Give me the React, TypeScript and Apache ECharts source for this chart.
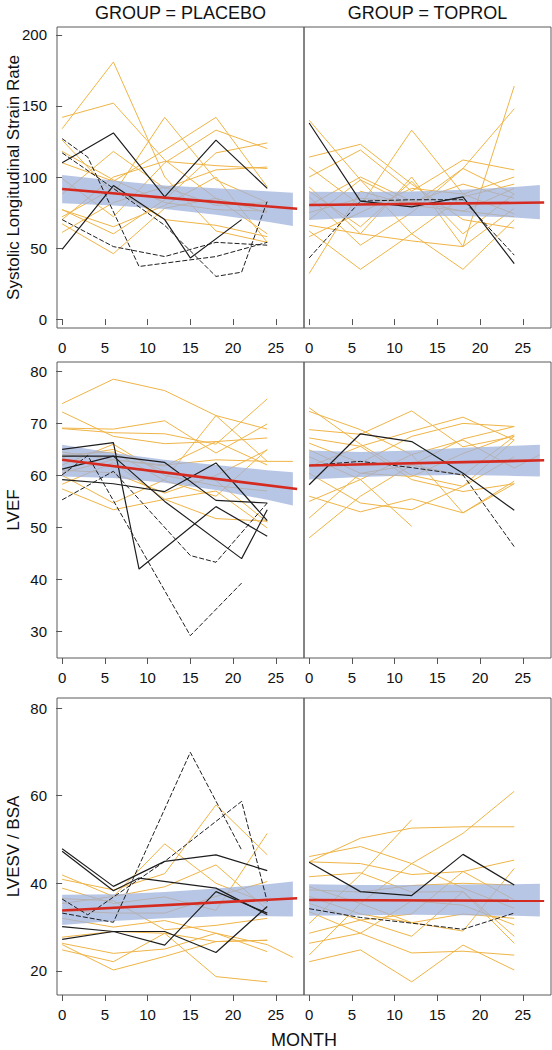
import React, { useEffect, useRef } from 'react';
import * as echarts from 'echarts';

type Pt = [number, number];

const VISITS = [0, 6, 12, 18, 24];
const X_TICKS = [0, 5, 10, 15, 20, 25];
const BAND_X = [0, 6, 12, 18, 24, 27];

const GROUPS = ['GROUP = PLACEBO', 'GROUP = TOPROL'];
const MEASURES = ['Systolic Longitudinal Strain Rate', 'LVEF', 'LVESV / BSA'];
const X_TITLE = 'MONTH';

const Y_TICKS_SL = [0, 50, 100, 150, 200];
const Y_TICKS_LVEF = [30, 40, 50, 60, 70, 80];
const Y_TICKS_LVESV = [20, 40, 60, 80];

// ---------- Systolic Longitudinal Strain Rate ----------
const SL_P_ORANGE: (number[] | Pt[])[] = [
  [134, 181, 100, 62, 54],
  [142, 152, 112, 85, 60],
  [126, 88, 142, 98, 82],
  [110, 97, 119, 142, 93],
  [99, 72, 110, 133, 120],
  [77, 60, 84, 117, 124],
  [70, 100, 111, 108, 106],
  [67, 46, 78, 85, 75],
  [61, 82, 93, 80, 82],
  [77, 65, 80, 100, 54],
  [88, 118, 92, 105, 107],
  [72, 92, 70, 66, 58],
  [118, 98, 82, 77, 76],
];
const SL_P_BLACK: Pt[][] = [
  [[0, 110], [6, 131], [12, 86], [18, 126], [24, 92]],
  [[0, 49], [6, 94], [12, 70], [15, 43], [21, 70]],
  [[0, 127], [3, 114], [9, 37], [18, 44], [24, 54]],
  [[0, 117], [6, 92], [12, 66], [18, 30], [21, 33], [24, 83]],
  [[0, 70], [6, 51], [12, 44], [18, 54], [24, 52]],
];
const SL_P_BLACK_DASHED = [false, false, true, true, true];
const SL_P_FIT: Pt[] = [[0, 91.5], [27.5, 77.6]];
const SL_P_LOWER = [81.5, 80, 77.5, 73.5, 68.5, 65.5];
const SL_P_UPPER = [101.4, 97.5, 94, 92, 90, 89];

const SL_T_ORANGE: (number[] | Pt[])[] = [
  [140, 98, 80, 106, 88],
  [114, 123, 95, 70, 64],
  [107, 80, 133, 88, 74],
  [100, 119, 90, 112, 105],
  [93, 60, 100, 51, 164],
  [86, 52, 75, 106, 148],
  [70, 98, 60, 86, 95],
  [66, 60, 55, 51, 78],
  [62, 35, 60, 35, 70],
  [58, 75, 92, 88, 100],
  [32, 90, 80, 76, 72],
  [75, 85, 82, 95, 85],
  [90, 65, 97, 60, 88],
  [80, 100, 83, 76, 92],
];
const SL_T_BLACK: Pt[][] = [
  [[0, 138], [6, 83], [12, 79], [18, 86], [24, 39]],
  [[0, 43], [6, 83], [12, 84], [18, 84], [24, 45]],
];
const SL_T_BLACK_DASHED = [false, true];
const SL_T_FIT: Pt[] = [[0, 80.3], [27.5, 82]];
const SL_T_LOWER = [69.7, 71.5, 72.5, 72.5, 71.5, 70.2];
const SL_T_UPPER = [89.7, 89.5, 89.8, 91, 93, 94.4];

// ---------- LVEF ----------
const LVEF_P_ORANGE: (number[] | Pt[])[] = [
  [73.8, 78.5, 76.3, 71.5, 68.9],
  [72.2, 67.5, 66.1, 66.5, 67.2],
  [69.1, 68.9, 70.5, 64.3, 69.9],
  [69.0, 68.2, 68.0, 66.0, 74.7],
  [60.0, 54.7, 59.2, 71.5, 62.7],
  [[0, 64.5], [6, 63.0], [12, 62.0], [18, 63.0], [24, 62.7], [27, 62.7]],
  [62.0, 66.0, 60.0, 58.0, 57.0],
  [58.3, 62.5, 55.4, 57.0, 49.9],
  [57.4, 53.4, 55.4, 51.7, 51.2],
  [64.0, 64.5, 59.0, 56.0, 65.0],
  [61.0, 60.5, 56.6, 60.0, 64.9],
  [63.5, 65.0, 60.8, 59.0, 51.0],
  [60.5, 63.0, 61.8, 66.5, 62.0],
];
const LVEF_P_BLACK: Pt[][] = [
  [[0, 65], [6, 66.3], [9, 42], [18, 54], [24, 48.3]],
  [[0, 63.7], [6, 63.7], [12, 62.5], [18, 55.2], [24, 54.7]],
  [[0, 59.2], [6, 58.4], [12, 56.9], [18, 62.4], [24, 51.3]],
  [[0, 55.3], [6, 60.8], [15, 44.6], [18, 43.3], [24, 54.7]],
  [[0, 60.1], [3, 63.8], [15, 29.2], [21, 39.3]],
  [[0, 61.2], [6, 63.7], [12, 55], [21, 44], [24, 53.4]],
];
const LVEF_P_BLACK_DASHED = [false, false, false, true, true, false];
const LVEF_P_FIT: Pt[] = [[0, 63], [27.5, 57.4]];
const LVEF_P_LOWER = [59.8, 59.5, 58.6, 57.2, 55.3, 54.2];
const LVEF_P_UPPER = [65.9, 64.3, 63, 62, 61, 60.6];

const LVEF_T_ORANGE: (number[] | Pt[])[] = [
  [73.0, 66.0, 60.0, 57.9, 63.6],
  [72.3, 68.8, 64.0, 52.8, 58.9],
  [68.8, 67.9, 72.4, 65.5, 67.5],
  [67.2, 65.6, 68.5, 71.2, 66.8],
  [66.2, 62.4, 67.5, 70.0, 69.4],
  [64.9, 60.4, 59.8, 64.2, 67.8],
  [[0, 63.6], [6, 59.2], [12, 64.0], [18, 66.8], [24, 61.4], [27, 64.0]],
  [61.7, 65.6, 59.2, 56.9, 58.4],
  [60.4, 54.7, 53.4, 57.9, 66.8],
  [56.0, 53.0, 55.5, 52.8, 58.4],
  [55.0, 59.2, 50.2],
  [51.8, 60.4, 62.0, 60.0, 67.5],
  [48.0, 56.0, 62.0, 67.0, 69.4],
];
const LVEF_T_BLACK: Pt[][] = [
  [[0, 58.2], [6, 68], [12, 66.5], [18, 60.4], [24, 53.3]],
  [[0, 61.9], [6, 62.7], [12, 61.5], [18, 60.1], [24, 46.3]],
];
const LVEF_T_BLACK_DASHED = [false, true];
const LVEF_T_FIT: Pt[] = [[0, 61.9], [27.5, 62.9]];
const LVEF_T_LOWER = [59.2, 59.7, 60, 60.1, 59.9, 59.8];
const LVEF_T_UPPER = [64.8, 64.5, 64.8, 65.3, 65.7, 65.9];

// ---------- LVESV / BSA ----------
const LVESV_P_ORANGE: (number[] | Pt[])[] = [
  [41.9, 37.0, 49.0, 40.0, 35.4],
  [40.9, 38.5, 42.2, 57.9, 46.5],
  [38.9, 35.4, 36.9, 33.8, 51.4],
  [35.4, 37.0, 39.2, 44.2, 34.0],
  [33.8, 33.2, 33.2, 37.0, 40.4],
  [36.5, 36.0, 29.4, 30.4, 32.0],
  [27.7, 29.0, 28.6, 26.7, 27.0],
  [[0, 26.3], [6, 24.0], [12, 25.0], [18, 28.6], [24, 26.0], [27, 23.1]],
  [24.8, 22.1, 28.6, 18.7, 17.5],
  [26.0, 20.2, 23.3, 26.7, 27.0],
  [32.0, 30.0, 31.5, 28.6, 24.4],
];
const LVESV_P_BLACK: Pt[][] = [
  [[0, 47.9], [6, 39.3], [12, 45], [18, 46.5], [24, 42.9]],
  [[0, 47.3], [6, 38.3], [9, 41.2], [18, 38.9], [24, 32.8]],
  [[0, 33.2], [6, 31.1], [15, 69.9], [21, 47.6]],
  [[0, 36.4], [3, 32.8], [12, 45], [21, 58.7], [24, 35.8]],
  [[0, 30.1], [6, 29], [12, 29], [18, 24.2], [24, 34.7]],
  [[0, 27.2], [6, 29], [12, 25.9], [18, 38.1], [24, 33.2]],
];
const LVESV_P_BLACK_DASHED = [false, false, true, true, false, false];
const LVESV_P_FIT: Pt[] = [[0, 33.8], [27.5, 36.6]];
const LVESV_P_LOWER = [30.5, 31.4, 32, 32.4, 32.5, 32.4];
const LVESV_P_UPPER = [37.4, 37.5, 38, 38.8, 39.8, 40.4];

const LVESV_T_ORANGE: (number[] | Pt[])[] = [
  [44.9, 50.3, 52.6, 52.9, 52.9],
  [46.1, 48.4, 44.5, 38.9, 34.3],
  [44.9, 44.5, 42.0, 42.7, 36.2],
  [41.5, 42.4, 38.0, 38.1, 27.9],
  [39.2, 35.4, 44.5, 51.4, 61.0],
  [38.5, 38.0, 39.5, 40.0, 39.6],
  [35.4, 31.6, 27.9, 38.1, 26.3],
  [30.8, 42.0, 54.5],
  [28.6, 31.6, 33.0, 42.7, 45.3],
  [26.3, 28.6, 24.1, 24.5, 23.6],
  [23.6, 35.4, 31.0, 29.1, 43.4],
  [22.1, 24.8, 17.5, 25.9, 20.2],
  [37.0, 33.0, 31.0, 33.0, 32.0],
  [33.5, 28.6, 36.0, 35.0, 30.5],
];
const LVESV_T_BLACK: Pt[][] = [
  [[0, 44.8], [6, 38.1], [12, 37.2], [18, 46.6], [24, 39.6]],
  [[0, 34.2], [6, 32.2], [12, 30.9], [18, 29.5], [24, 33.2]],
];
const LVESV_T_BLACK_DASHED = [false, true];
const LVESV_T_FIT: Pt[] = [[0, 36.2], [27.5, 36.0]];
const LVESV_T_LOWER = [32.6, 32.7, 32.8, 32.7, 32.6, 32.4];
const LVESV_T_UPPER = [39.8, 39.6, 39.6, 39.7, 39.8, 39.9];

// ---------- styling / layout ----------
const FONT = "'Liberation Sans', Arial, Helvetica, sans-serif";
const ORANGE = '#EFB446';
const BLACK = '#1e1e1e';
const RED = '#D52A1F';
const BAND = '#9DB0DD';

const COL_LEFT = [57, 304];
const COL_WIDTH = 247;
const ROW_TOP = [27, 362, 698];
const ROW_HEIGHT = [301, 296, 297];
const Y_RANGES: [number, number][] = [[-6.3, 205.6], [24.9, 81.8], [14.5, 82.3]];
const Y_TICKS = [Y_TICKS_SL, Y_TICKS_LVEF, Y_TICKS_LVESV];
const X_RANGE: [number, number] = [-0.6, 28.3];

type Panel = {
  orange: (number[] | Pt[])[];
  black: Pt[][];
  dashed: boolean[];
  fit: Pt[];
  lower: number[];
  upper: number[];
};

const PANELS: Panel[] = [
  { orange: SL_P_ORANGE, black: SL_P_BLACK, dashed: SL_P_BLACK_DASHED, fit: SL_P_FIT, lower: SL_P_LOWER, upper: SL_P_UPPER },
  { orange: SL_T_ORANGE, black: SL_T_BLACK, dashed: SL_T_BLACK_DASHED, fit: SL_T_FIT, lower: SL_T_LOWER, upper: SL_T_UPPER },
  { orange: LVEF_P_ORANGE, black: LVEF_P_BLACK, dashed: LVEF_P_BLACK_DASHED, fit: LVEF_P_FIT, lower: LVEF_P_LOWER, upper: LVEF_P_UPPER },
  { orange: LVEF_T_ORANGE, black: LVEF_T_BLACK, dashed: LVEF_T_BLACK_DASHED, fit: LVEF_T_FIT, lower: LVEF_T_LOWER, upper: LVEF_T_UPPER },
  { orange: LVESV_P_ORANGE, black: LVESV_P_BLACK, dashed: LVESV_P_BLACK_DASHED, fit: LVESV_P_FIT, lower: LVESV_P_LOWER, upper: LVESV_P_UPPER },
  { orange: LVESV_T_ORANGE, black: LVESV_T_BLACK, dashed: LVESV_T_BLACK_DASHED, fit: LVESV_T_FIT, lower: LVESV_T_LOWER, upper: LVESV_T_UPPER },
];

function toPts(line: number[] | Pt[]): Pt[] {
  if (typeof line[0] === 'number') {
    return (line as number[]).map((v, i) => [VISITS[i], v] as Pt);
  }
  return line as Pt[];
}

function buildOption() {
  const grid: any[] = [];
  const xAxis: any[] = [];
  const yAxis: any[] = [];
  const series: any[] = [];

  PANELS.forEach((p, g) => {
    const row = Math.floor(g / 2);
    const col = g % 2;
    grid.push({
      left: COL_LEFT[col],
      top: ROW_TOP[row],
      width: COL_WIDTH,
      height: ROW_HEIGHT[row],
      show: true,
      borderColor: '#5a5a5a',
      borderWidth: 1,
      backgroundColor: 'transparent',
      containLabel: false,
    });
    xAxis.push({
      type: 'value',
      gridIndex: g,
      min: X_RANGE[0],
      max: X_RANGE[1],
      axisLine: { show: false },
      splitLine: { show: false },
      axisTick: { show: true, length: 6, lineStyle: { color: '#555', width: 1 }, customValues: X_TICKS },
      axisLabel: { show: true, fontSize: 15, color: '#111', margin: 12, fontFamily: FONT, customValues: X_TICKS },
    });
    yAxis.push({
      type: 'value',
      gridIndex: g,
      min: Y_RANGES[row][0],
      max: Y_RANGES[row][1],
      show: col === 0,
      axisLine: { show: false },
      splitLine: { show: false },
      axisTick: { show: true, length: 6, lineStyle: { color: '#555', width: 1 }, customValues: Y_TICKS[row] },
      axisLabel: { show: true, fontSize: 15, color: '#111', margin: 10, fontFamily: FONT, customValues: Y_TICKS[row] },
    });

    p.orange.forEach((line) => {
      series.push({
        type: 'line',
        xAxisIndex: g,
        yAxisIndex: g,
        data: toPts(line),
        symbol: 'none',
        silent: true,
        z: 2,
        lineStyle: { color: ORANGE, width: 1 },
      });
    });

    const lower = p.lower;
    const upper = p.upper;
    series.push({
      type: 'custom',
      xAxisIndex: g,
      yAxisIndex: g,
      silent: true,
      z: 3,
      data: BAND_X.map((x, i) => [x, lower[i], upper[i]]),
      encode: { x: 0, y: [1, 2] },
      renderItem: (params: any, api: any) => {
        if (params.dataIndex !== 0) return null;
        const top = BAND_X.map((x, i) => api.coord([x, upper[i]]));
        const bot = BAND_X.map((x, i) => api.coord([x, lower[i]])).reverse();
        return {
          type: 'polygon',
          shape: { points: top.concat(bot) },
          style: { fill: BAND, opacity: 0.72 },
        };
      },
    });

    p.black.forEach((line, i) => {
      series.push({
        type: 'line',
        xAxisIndex: g,
        yAxisIndex: g,
        data: line,
        symbol: 'none',
        silent: true,
        z: 4,
        lineStyle: { color: BLACK, width: p.dashed[i] ? 1 : 1.2, type: p.dashed[i] ? [5, 2] : 'solid' },
      });
    });

    series.push({
      type: 'line',
      xAxisIndex: g,
      yAxisIndex: g,
      data: p.fit,
      symbol: 'none',
      silent: true,
      z: 5,
      lineStyle: { color: RED, width: 2.6 },
    });
  });

  const graphic: any[] = [];
  GROUPS.forEach((t, col) => {
    graphic.push({
      type: 'text',
      x: COL_LEFT[col] + COL_WIDTH / 2,
      y: 13,
      style: { text: t, fontSize: 18, fontFamily: FONT, fill: '#111', textAlign: 'center', textVerticalAlign: 'middle' },
    });
  });
  MEASURES.forEach((t, row) => {
    graphic.push({
      type: 'text',
      x: 13,
      y: ROW_TOP[row] + ROW_HEIGHT[row] / 2,
      rotation: Math.PI / 2,
      style: { text: t, fontSize: 17, fontFamily: FONT, fill: '#111', textAlign: 'center', textVerticalAlign: 'middle' },
    });
  });
  graphic.push({
    type: 'text',
    x: COL_LEFT[0] + COL_WIDTH,
    y: 1040,
    style: { text: X_TITLE, fontSize: 18, fontFamily: FONT, fill: '#111', textAlign: 'center', textVerticalAlign: 'middle' },
  });

  return {
    animation: false,
    backgroundColor: '#ffffff',
    textStyle: { fontFamily: FONT },
    grid,
    xAxis,
    yAxis,
    series,
    graphic,
  };
}

export default function App() {
  const ref = useRef<HTMLDivElement>(null);
  useEffect(() => {
    document.body.style.margin = '0';
    if (!ref.current) return;
    const chart = echarts.init(ref.current, undefined, { renderer: 'svg' });
    chart.setOption(buildOption() as any);
    return () => chart.dispose();
  }, []);
  return <div ref={ref} style={{ width: 552, height: 1050 }} />;
}
